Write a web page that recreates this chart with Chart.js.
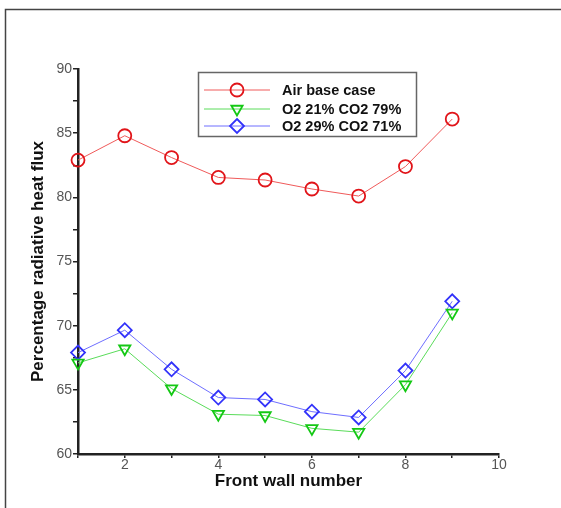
<!DOCTYPE html>
<html>
<head>
<meta charset="utf-8">
<script src="https://cdn.jsdelivr.net/npm/chart.js@4/dist/chart.umd.min.js"></script>
<style>
  html, body { margin: 0; padding: 0; background: #fff; }
  #wrap { width: 561px; height: 508px; }
</style>
</head>
<body>
<div id="wrap"><canvas id="grafica" width="561" height="508"></canvas></div>
<script>
// front wall number on the x axis
const wallNumbers = [1, 2, 3, 4, 5, 6, 7, 8, 9];
// percentage radiative heat flux per case
const airBase = [82.9, 84.8, 83.1, 81.55, 81.35, 80.65, 80.1, 82.4, 86.1];
const o2co2_21_79 = [67.1, 68.2, 65.1, 63.1, 63.0, 62.0, 61.7, 65.4, 71.0];
const o2co2_29_71 = [67.9, 69.65, 66.6, 64.4, 64.25, 63.3, 62.85, 66.5, 71.9];
const seriesLabels = ["Air base case", "O2 21% CO2 79%", "O2 29% CO2 71%"];

const toPoints = vals => vals.map((v, i) => ({x: wallNumbers[i], y: v}));

// draws a marker shape by hand (used in the legend box)
function drawMarker(ctx, style, x, y, r, rot) {
    ctx.beginPath();
    if (style === "circle") {
        ctx.arc(x, y, r, 0, Math.PI * 2);
    } else if (style === "triangle") {
        for (let k = 0; k < 3; k++) {
            const a = (rot + k * 120 - 90) * Math.PI / 180;
            const px = x + Math.cos(a) * r, py = y + Math.sin(a) * r;
            if (k === 0) ctx.moveTo(px, py); else ctx.lineTo(px, py);
        }
        ctx.closePath();
    } else {
        ctx.moveTo(x, y - r);
        ctx.lineTo(x + r, y);
        ctx.lineTo(x, y + r);
        ctx.lineTo(x - r, y);
        ctx.closePath();
    }
    ctx.stroke();
}

// outer frame, left and top edges only
const frame = {
    id: "frame",
    beforeDraw(chart) {
        const c = chart.ctx;
        c.save();
        c.fillStyle = "#fff";
        c.fillRect(0, 0, chart.width, chart.height);
        c.strokeStyle = "#444";
        c.lineWidth = 1.5;
        c.beginPath();
        c.moveTo(5.5, chart.height);
        c.lineTo(5.5, 9.5);
        c.lineTo(chart.width, 9.5);
        c.stroke();
        c.restore();
    }
};

// legend with line samples and markers
const legendBox = {
    id: "legendBox",
    afterDraw(chart) {
        const c = chart.ctx;
        const bx = 198.5, by = 72.5, bw = 218, bh = 64;
        c.save();
        c.strokeStyle = "#666";
        c.lineWidth = 1.5;
        c.strokeRect(bx, by, bw, bh);
        const rows = [90, 109, 126];
        chart.data.datasets.forEach((ds, i) => {
            const y = rows[i];
            c.strokeStyle = ds.borderColor;
            c.lineWidth = 1;
            c.beginPath();
            c.moveTo(204, y);
            c.lineTo(270, y);
            c.stroke();
            c.strokeStyle = ds.pointBorderColor;
            c.lineWidth = ds.pointBorderWidth;
            drawMarker(c, ds.pointStyle, 237, y, ds.pointRadius, ds.pointRotation || 0);
            c.fillStyle = "#111";
            c.font = "bold 14.5px 'Liberation Sans', Arial, sans-serif";
            c.textBaseline = "middle";
            c.fillText(ds.label, 282, y + 0.5);
        });
        c.restore();
    }
};

const ctx = document.getElementById("grafica").getContext("2d");
const grafica = new Chart(ctx, {
    type: "line",
    data: {
        datasets: [{
            label: seriesLabels[0],
            data: toPoints(airBase),
            borderColor: "rgb(240, 90, 90)",
            pointBorderColor: "rgb(225, 20, 25)",
            pointBackgroundColor: "rgba(0,0,0,0)",
            pointStyle: "circle",
            pointRadius: 6.5,
            pointBorderWidth: 1.8,
            borderWidth: 1,
            clip: false
        }, {
            label: seriesLabels[1],
            data: toPoints(o2co2_21_79),
            borderColor: "rgb(90, 220, 90)",
            pointBorderColor: "rgb(20, 200, 20)",
            pointBackgroundColor: "rgba(0,0,0,0)",
            pointStyle: "triangle",
            pointRotation: 180,
            pointRadius: 6.5,
            pointBorderWidth: 1.8,
            borderWidth: 1,
            clip: false
        }, {
            label: seriesLabels[2],
            data: toPoints(o2co2_29_71),
            borderColor: "rgb(110, 110, 255)",
            pointBorderColor: "rgb(50, 50, 250)",
            pointBackgroundColor: "rgba(0,0,0,0)",
            pointStyle: "rectRot",
            pointRadius: 7,
            pointBorderWidth: 1.8,
            borderWidth: 1,
            clip: false
        }]
    },
    options: {
        responsive: false,
        animation: false,
        layout: { padding: { left: 0, top: 69, right: 62, bottom: 0 } },
        plugins: { legend: { display: false }, tooltip: { enabled: false } },
        elements: { line: { tension: 0 } },
        scales: {
            x: {
                type: "linear",
                min: 1,
                max: 10,
                afterFit: s => { s.height = 54; },
                border: { display: true, color: "#222", width: 2.5 },
                grid: { drawOnChartArea: false, drawTicks: true, tickLength: 4, color: "#222", lineWidth: 1.5 },
                ticks: {
                    stepSize: 1,
                    padding: -1,
                    color: "#555",
                    font: { family: "'Liberation Sans', Arial, sans-serif", size: 14 },
                    maxRotation: 0,
                    autoSkip: false,
                    callback: v => (v % 2 === 0 ? v : "")
                },
                title: {
                    display: true,
                    text: "Front wall number",
                    color: "#111",
                    font: { family: "'Liberation Sans', Arial, sans-serif", size: 17, weight: "bold" },
                    padding: { top: 16, bottom: 16 }
                }
            },
            y: {
                min: 60,
                max: 90,
                afterFit: s => { s.width = 78; },
                border: { display: true, color: "#222", width: 2.5 },
                grid: { drawOnChartArea: false, drawTicks: true, tickLength: 5, color: "#222", lineWidth: 1.5 },
                ticks: {
                    stepSize: 2.5,
                    padding: 1,
                    color: "#555",
                    font: { family: "'Liberation Sans', Arial, sans-serif", size: 14 },
                    autoSkip: false,
                    callback: v => (v % 5 === 0 ? v : "")
                },
                title: {
                    display: true,
                    text: "Percentage radiative heat flux",
                    color: "#111",
                    font: { family: "'Liberation Sans', Arial, sans-serif", size: 17, weight: "bold" },
                    padding: { top: 28, bottom: 28 }
                }
            }
        }
    },
    plugins: [frame, legendBox]
});
</script>
</body>
</html>
